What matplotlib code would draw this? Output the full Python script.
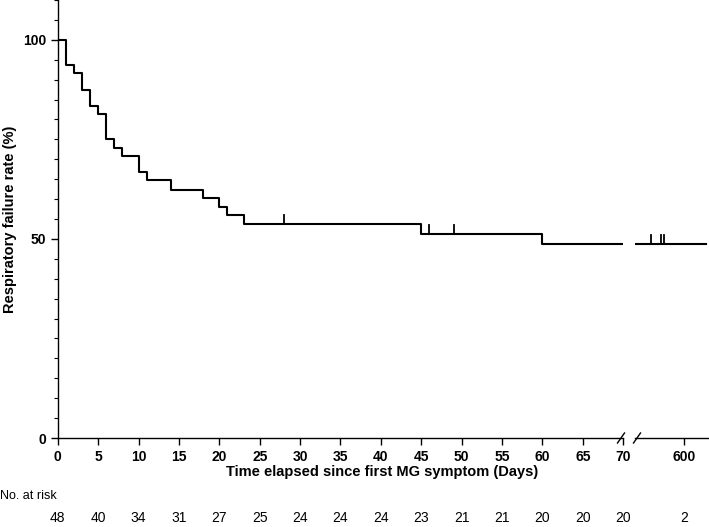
import numpy as np
import matplotlib
matplotlib.use("Agg")
import matplotlib.pyplot as plt
import matplotlib.transforms as mtransforms
from matplotlib.lines import Line2D

plt.rcParams['font.family'] = ['Liberation Sans', 'DejaVu Sans']

# Step curve (first segment, days 0-70)
step_days = [0, 1, 2, 3, 4, 5, 6, 7, 8, 10, 11, 14, 18, 20, 21, 23, 45, 60, 70]
step_rate = [100, 93.75, 91.67, 87.5, 83.33, 81.25, 75.0, 72.92, 70.83,
             66.8, 64.7, 62.4, 60.3, 58.1, 55.9, 53.7, 51.3, 48.8, 48.8]
censor_days = [28, 46, 49]

# Second segment (around day 600)
late_days = [573, 612]
late_rate = [48.8, 48.8]
late_censor = [582, 587.5, 589]

# Number at risk
risk_days = [0, 5, 10, 15, 20, 25, 30, 35, 40, 45, 50, 55, 60, 65, 70]
risk_n = [48, 40, 34, 31, 27, 25, 24, 24, 24, 23, 21, 21, 20, 20, 20]
risk_late_day = 600
risk_late_n = 2

W, H = 709, 527
fig = plt.figure(figsize=(W/100, H/100), dpi=100)
ax1 = fig.add_axes([57.7/W, 1-438/H, (623.3-57.7)/W, 438/H])
ax2 = fig.add_axes([635/W, 1-438/H, 73/W, 438/H], sharey=ax1)

lw = 1.5
ax1.step(step_days, step_rate, where='post', color='black', lw=lw)
ax2.step(late_days, late_rate, where='post', color='black', lw=lw)

def censor_marks(ax, xs, days, rates):
    for d in xs:
        idx = np.searchsorted(days, d, side='right') - 1
        y = rates[idx]
        ax.plot([d, d], [y, y + 2.2], color='black', lw=1.3)

censor_marks(ax1, censor_days, step_days, step_rate)
censor_marks(ax2, late_censor, late_days, late_rate)

ax1.set_xlim(0, 70)
ax1.set_ylim(0, 110)
ax2.set_xlim(573, 613)

ax1.set_xticks(np.arange(0, 71, 5))
ax1.set_yticks([0, 50, 100])
ax1.set_yticks(np.arange(0, 111, 5), minor=True)
ax2.set_xticks([600])

for ax in (ax1, ax2):
    ax.spines['top'].set_visible(False)
    ax.spines['right'].set_visible(False)
    ax.spines['bottom'].set_linewidth(1.0)
    ax.spines['left'].set_linewidth(1.0)
    ax.tick_params(axis='both', which='major', length=5, width=1.0,
                   labelsize=10)
    ax.tick_params(axis='both', which='minor', length=3, width=0.8)
    for lab in ax.get_xticklabels() + ax.get_yticklabels():
        lab.set_fontweight('bold')

ax2.spines['left'].set_visible(False)
ax2.tick_params(axis='y', which='both', left=False, labelleft=False)

ax1.set_ylabel("Respiratory failure rate (%)", fontsize=10.5,
               fontweight='bold', labelpad=4)
fig.text(382/W, 1 - 472/H,
         "Time elapsed since first MG symptom (Days)",
         ha='center', va='center', fontsize=10.5, fontweight='bold')

# axis break marks
yb = 1 - 438/H
for xc in (621, 637):
    fig.add_artist(Line2D([(xc - 3.5)/W, (xc + 3.5)/W],
                          [yb - 5/H, yb + 5/H], color='black', lw=1.0))

# Number at risk table
fig.text(0.0, 1 - 496/H, "No. at risk", ha='left', va='center', fontsize=9)
tr1 = mtransforms.blended_transform_factory(ax1.transData, fig.transFigure)
tr2 = mtransforms.blended_transform_factory(ax2.transData, fig.transFigure)
for d, n in zip(risk_days, risk_n):
    fig.text(d, 1 - 518/H, str(n), transform=tr1, ha='center',
             va='center', fontsize=10)
fig.text(risk_late_day, 1 - 518/H, str(risk_late_n), transform=tr2,
         ha='center', va='center', fontsize=10)

fig.savefig("out.png", dpi=100)
